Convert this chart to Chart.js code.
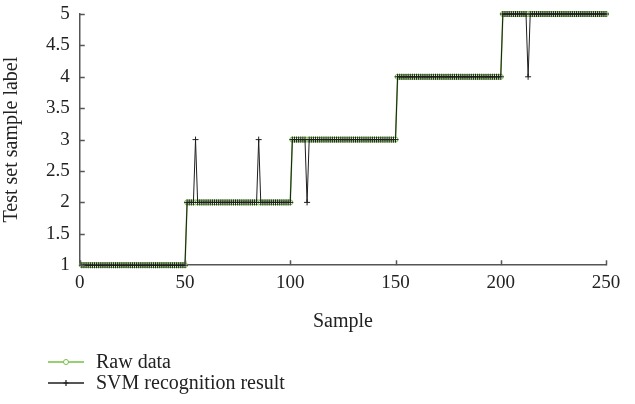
<!DOCTYPE html>
<html>
<head>
<meta charset="utf-8">
<script src="https://cdn.jsdelivr.net/npm/chart.js@4"></script>
<style>
  body { margin: 0; background: #fff; }
  #wrap { position: relative; width: 635px; height: 404px; }
  #legend { position: absolute; left: 48px; top: 351px; font-family: "Liberation Serif", serif; font-size: 20px; color: #222; }
  #legend div { display: flex; align-items: center; height: 21px; }
  #legend svg { margin-right: 12px; }
</style>
</head>
<body>
<div id="wrap">
  <canvas id="chart" width="635" height="404"></canvas>
  <div id="legend"></div>
</div>
<script>
// tick labels
const xTicks = [0, 50, 100, 150, 200, 250];
const yTicks = [1, 1.5, 2, 2.5, 3, 3.5, 4, 4.5, 5];

// raw labels of the 250 test samples
const rawData = [
  1,1,1,1,1,1,1,1,1,1, 1,1,1,1,1,1,1,1,1,1, 1,1,1,1,1,1,1,1,1,1, 1,1,1,1,1,1,1,1,1,1, 1,1,1,1,1,1,1,1,1,1,
  2,2,2,2,2,2,2,2,2,2, 2,2,2,2,2,2,2,2,2,2, 2,2,2,2,2,2,2,2,2,2, 2,2,2,2,2,2,2,2,2,2, 2,2,2,2,2,2,2,2,2,2,
  3,3,3,3,3,3,3,3,3,3, 3,3,3,3,3,3,3,3,3,3, 3,3,3,3,3,3,3,3,3,3, 3,3,3,3,3,3,3,3,3,3, 3,3,3,3,3,3,3,3,3,3,
  4,4,4,4,4,4,4,4,4,4, 4,4,4,4,4,4,4,4,4,4, 4,4,4,4,4,4,4,4,4,4, 4,4,4,4,4,4,4,4,4,4, 4,4,4,4,4,4,4,4,4,4,
  5,5,5,5,5,5,5,5,5,5, 5,5,5,5,5,5,5,5,5,5, 5,5,5,5,5,5,5,5,5,5, 5,5,5,5,5,5,5,5,5,5, 5,5,5,5,5,5,5,5,5,5
];

// SVM predicted labels
const svmData = [
  1,1,1,1,1,1,1,1,1,1, 1,1,1,1,1,1,1,1,1,1, 1,1,1,1,1,1,1,1,1,1, 1,1,1,1,1,1,1,1,1,1, 1,1,1,1,1,1,1,1,1,1,
  2,2,2,2,3,2,2,2,2,2, 2,2,2,2,2,2,2,2,2,2, 2,2,2,2,2,2,2,2,2,2, 2,2,2,2,3,2,2,2,2,2, 2,2,2,2,2,2,2,2,2,2,
  3,3,3,3,3,3,3,2,3,3, 3,3,3,3,3,3,3,3,3,3, 3,3,3,3,3,3,3,3,3,3, 3,3,3,3,3,3,3,3,3,3, 3,3,3,3,3,3,3,3,3,3,
  4,4,4,4,4,4,4,4,4,4, 4,4,4,4,4,4,4,4,4,4, 4,4,4,4,4,4,4,4,4,4, 4,4,4,4,4,4,4,4,4,4, 4,4,4,4,4,4,4,4,4,4,
  5,5,5,5,5,5,5,5,5,5, 5,5,4,5,5,5,5,5,5,5, 5,5,5,5,5,5,5,5,5,5, 5,5,5,5,5,5,5,5,5,5, 5,5,5,5,5,5,5,5,5,5
];

const green = '#74bf44';
const dark = '#1e1e1e';
const axisColor = '#555';
const tickFont = { family: '"Liberation Serif", serif', size: 19 };
const titleFont = { family: '"Liberation Serif", serif', size: 20 };

const toPoints = arr => arr.map((v, i) => ({ x: i + 1, y: v }));

// small tick marks drawn inside the plot area
const innerTicks = {
  id: 'innerTicks',
  afterDraw(chart) {
    const { ctx, chartArea, scales } = chart;
    ctx.save();
    ctx.strokeStyle = axisColor;
    ctx.lineWidth = 1.5;
    ctx.beginPath();
    xTicks.forEach(t => {
      const px = Math.round(scales.x.getPixelForValue(t)) + 0.5;
      ctx.moveTo(px, chartArea.bottom);
      ctx.lineTo(px, chartArea.bottom - 5);
    });
    yTicks.forEach(t => {
      const py = Math.round(scales.y.getPixelForValue(t)) + 0.5;
      ctx.moveTo(chartArea.left, py);
      ctx.lineTo(chartArea.left + 5, py);
    });
    ctx.stroke();
    ctx.restore();
  }
};

new Chart(document.getElementById('chart'), {
  type: 'line',
  data: {
    datasets: [
      {
        label: 'SVM recognition result',
        data: toPoints(svmData),
        borderColor: dark,
        borderWidth: 1,
        pointStyle: 'cross',
        pointRadius: 3,
        pointBorderColor: dark,
        pointBorderWidth: 1,
        clip: false,
        order: 0
      },
      {
        label: 'Raw data',
        data: toPoints(rawData),
        borderColor: green,
        borderWidth: 1.5,
        pointStyle: 'circle',
        pointRadius: 2.5,
        pointBorderColor: green,
        pointBackgroundColor: '#fff',
        pointBorderWidth: 1,
        clip: false,
        order: 1
      }
    ]
  },
  options: {
    responsive: false,
    animation: false,
    layout: { padding: { top: 0, right: 29, bottom: 70, left: 0 } },
    plugins: { legend: { display: false }, tooltip: { enabled: false } },
    scales: {
      x: {
        type: 'linear',
        min: 0, max: 250,
        afterBuildTicks: s => { s.ticks = xTicks.map(v => ({ value: v })); },
        grid: { display: false, drawTicks: false },
        border: { display: true, color: axisColor, width: 1.5 },
        ticks: { font: tickFont, color: '#222', padding: 6, maxRotation: 0 },
        title: { display: true, text: 'Sample', font: titleFont, color: '#222', padding: { top: 10, bottom: 0 } }
      },
      y: {
        type: 'linear',
        min: 1, max: 5,
        afterBuildTicks: s => { s.ticks = yTicks.map(v => ({ value: v })); },
        afterFit: s => { s.paddingTop = 14; },
        grid: { display: false, drawTicks: false },
        border: { display: true, color: axisColor, width: 1.5 },
        ticks: { font: tickFont, color: '#222', padding: 10, callback: v => String(v) },
        title: { display: true, text: 'Test set sample label', font: titleFont, color: '#222', padding: { top: 0, bottom: 12 } }
      }
    }
  },
  plugins: [innerTicks]
});

// legend below the chart
const legendItems = [
  { label: 'Raw data', color: green, marker: 'circle' },
  { label: 'SVM recognition result', color: dark, marker: 'cross' }
];
document.getElementById('legend').innerHTML = legendItems.map(it => {
  const mk = it.marker === 'circle'
    ? `<circle cx="18" cy="7" r="2.5" fill="#fff" stroke="${it.color}" stroke-width="1"/>`
    : `<path d="M18 4 V10 M15.5 7 H20.5" stroke="${it.color}" stroke-width="1.2"/>`;
  return `<div><svg width="36" height="14"><line x1="0" y1="7" x2="36" y2="7" stroke="${it.color}" stroke-width="1.3"/>${mk}</svg><span>${it.label}</span></div>`;
}).join('');
</script>
</body>
</html>
